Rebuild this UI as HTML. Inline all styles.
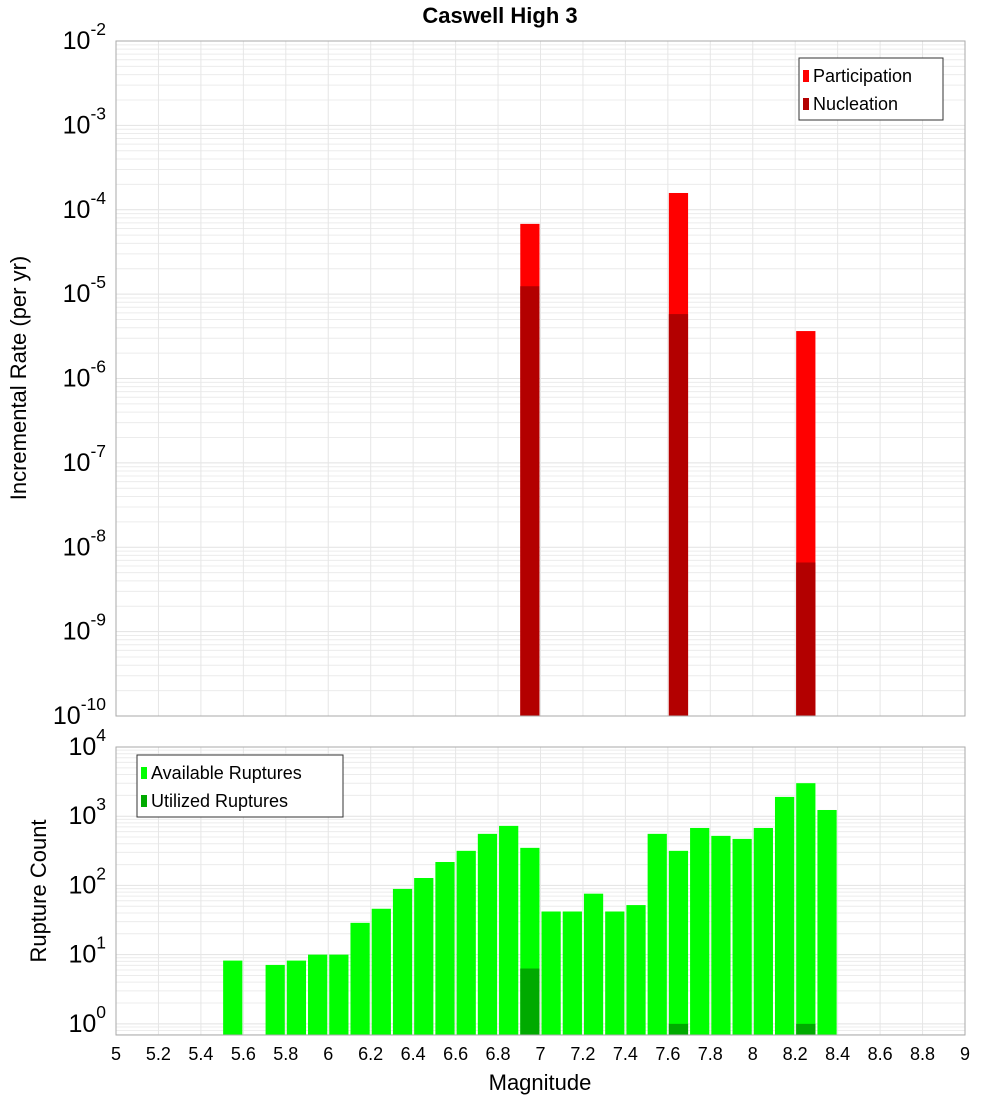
<!DOCTYPE html>
<html><head><meta charset="utf-8"><style>
body{margin:0;background:#fff}
svg text{font-family:"Liberation Sans","DejaVu Sans",sans-serif;fill:#000}
</style></head><body>
<svg id="c" width="1000" height="1100" xmlns="http://www.w3.org/2000/svg">
<text x="500" y="23" text-anchor="middle" font-size="22" font-weight="bold">Caswell High 3</text>
</svg>
<script>
const binCenters=[5.55,5.65,5.75,5.85,5.95,6.05,6.15,6.25,6.35,6.45,6.55,6.65,6.75,6.85,6.95,7.05,7.15,7.25,7.35,7.45,7.55,7.65,7.75,7.85,7.95,8.05,8.15,8.25,8.35];
const available=[8.2,0,7.1,8.2,10,10,28.8,46,89,128,218,316,556,725,349,42,42,76,42,52,556,316,676,520,470,676,1900,3000,1230];
const utilized=[0,0,0,0,0,0,0,0,0,0,0,0,0,0,6.3,0,0,0,0,0,0,1,0,0,0,0,0,1,0];
const rateMags=[6.95,7.65,8.25];
const participation=[6.8e-5,1.58e-4,3.65e-6];
const nucleation=[1.24e-5,5.8e-6,6.6e-9];
const xTicks=[5,5.2,5.4,5.6,5.8,6,6.2,6.4,6.6,6.8,7,7.2,7.4,7.6,7.8,8,8.2,8.4,8.6,8.8,9];

const svg=document.getElementById('c');const NS='http://www.w3.org/2000/svg';
function mk(t,a,p){const e=document.createElementNS(NS,t);for(const k in a)e.setAttribute(k,a[k]);(p||svg).appendChild(e);return e;}
const X0=116,X1=965;
const xs=m=>X0+(m-5)/4*(X1-X0);
const T={y0:41,y1:716,lmin:-10,lmax:-2};
const B={y0:747,y1:1035,lmin:Math.log10(0.69),lmax:4};
const ys=(P,v)=>P.y1-(Math.log10(v)-P.lmin)/(P.lmax-P.lmin)*(P.y1-P.y0);

function grid(P,name){
  const g=mk('g',{});
  
  for(let d=Math.floor(P.lmin);d<P.lmax;d++)for(let k=1;k<10;k++){const v=k*Math.pow(10,d);const lv=Math.log10(v);if(lv<P.lmin||lv>P.lmax)continue;const y=ys(P,v);
    mk('line',{x1:X0,x2:X1,y1:y,y2:y,stroke:k==1?'#e2e2e2':'#ececec','stroke-width':1},g);}
  xTicks.forEach(t=>{const x=xs(t);mk('line',{x1:x,x2:x,y1:P.y0,y2:P.y1,stroke:'#e6e6e6'},g);});
}
function frame(P,name){const r=mk('rect',{x:X0,y:P.y0,width:X1-X0,height:P.y1-P.y0,fill:'none',stroke:'#aaa'});}
function yTicks(P,from,to,fs,name){for(let d=from;d<=to;d++){const y=ys(P,Math.pow(10,d));
  const t=mk('text',{x:X0-10,y:y+8,'text-anchor':'end','font-size':fs});
  
  t.textContent='10';const s=mk('tspan',{dy:-14,'font-size':fs*0.7},t);s.textContent=String(d);}}

grid(T,'rate');grid(B,'count');
// top bars
rateMags.forEach((m,i)=>{const xa=xs(m-0.05)+1,w=xs(m+0.05)-xs(m-0.05)-2;
  const r=mk('rect',{x:xa,y:ys(T,participation[i]),width:w,height:T.y1-ys(T,participation[i]),fill:'#ff0000'});
  
  const n=mk('rect',{x:xa,y:ys(T,nucleation[i]),width:w,height:T.y1-ys(T,nucleation[i]),fill:'#b30000'});
  });
// bottom bars
binCenters.forEach((m,i)=>{const xa=xs(m-0.05)+1,w=xs(m+0.05)-xs(m-0.05)-2;
  if(available[i]>0){const y=ys(B,available[i]);const r=mk('rect',{x:xa,y:y,width:w,height:B.y1-y,fill:'#00ff00'});
    }
  if(utilized[i]>0){const y=ys(B,utilized[i]);const r=mk('rect',{x:xa,y:y,width:w,height:B.y1-y,fill:'#00aa00'});
    }});
frame(T,'rate-plot');frame(B,'count-plot');
yTicks(T,-10,-2,25,'rate-y');yTicks(B,0,4,25,'count-y');
xTicks.forEach(t=>{const e=mk('text',{x:xs(t),y:1060,'text-anchor':'middle','font-size':18});e.textContent=String(t);
  });
function lbl(txt,x,y,rot,name){const e=mk('text',{x:x,y:y,'text-anchor':'middle','font-size':22,transform:rot?`rotate(-90 ${x} ${y})`:''});e.textContent=txt;
  }
lbl('Magnitude',540,1090,false,'x-axis-title');
lbl('Incremental Rate (per yr)',26,378,true,'rate-y-axis-title');
lbl('Rupture Count',46,891,true,'count-y-axis-title');
function legend(x,y,w,items,name){const g=mk('g',{});
  mk('rect',{x:x,y:y,width:w,height:62,fill:'#fff',stroke:'#333'},g);
  items.forEach((it,i)=>{mk('rect',{x:x+4,y:y+12+i*28,width:6,height:12,fill:it[1]},g);
    const t=mk('text',{x:x+14,y:y+24+i*28,'font-size':18},g);t.textContent=it[0];});}
legend(799,58,144,[['Participation','#ff0000'],['Nucleation','#b30000']],'rate-legend');
legend(137,755,206,[['Available Ruptures','#00ff00'],['Utilized Ruptures','#00aa00']],'count-legend');
</script>
</body></html>
